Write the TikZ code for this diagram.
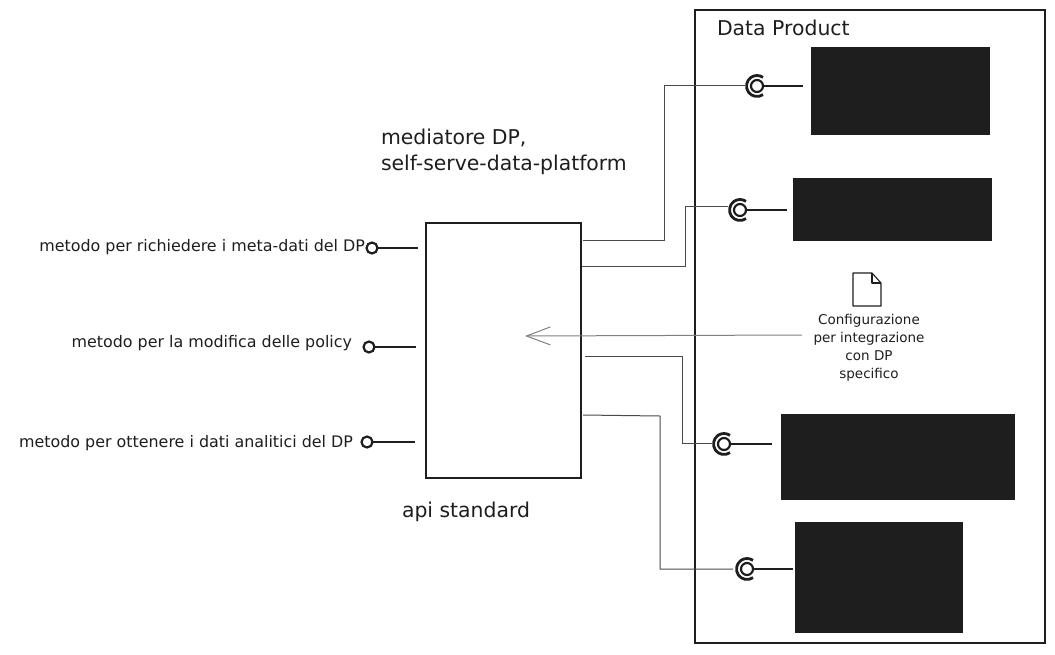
\documentclass[tikz,border=0pt]{standalone}
\usepackage{fontspec}
\setmainfont{DejaVu Sans}
\usetikzlibrary{
    arrows.meta,
    calc,
    positioning,
    shapes.geometric
}
\definecolor{inkdark}{HTML}{1E1E1E}
\definecolor{wiregray}{HTML}{4A4A4A}
\tikzset{
    every picture/.style = {
        > = Stealth,
        x = 1pt,
        y = -1pt,
        line join = miter
    },
    every node/.style = {
        inner sep = 0pt,
        outer sep = 0pt,
        align = center,
        text = inkdark
    },
    frame/.style = {
        draw = inkdark,
        line width = 1.1pt
    },
    blackbox/.style = {
        draw = inkdark,
        fill = inkdark,
        line width = 1pt
    },
    lollipop/.style = {
        circle,
        draw = inkdark,
        line width = 2.2pt,
        minimum size = 11pt
    },
    socket/.style = {
        circle,
        draw = inkdark,
        line width = 2.2pt,
        minimum size = 12pt
    },
    socketcup/.style = {
        draw = inkdark,
        line width = 2.8pt
    },
    stem/.style = {
        draw = inkdark,
        line width = 2pt
    },
    wire/.style = {
        draw = wiregray,
        line width = 1pt
    },
    bigtext/.style = {
        font = \fontsize{20.4}{26}\selectfont,
        align = left
    },
    methodtext/.style = {
        font = \fontsize{15.9}{20}\selectfont,
        anchor = east
    },
    smalltext/.style = {
        font = \fontsize{13.5}{18}\selectfont
    }
}

\begin{document}
\begin{tikzpicture}
    \useasboundingbox (0, 0) rectangle (1055, 654);

    % data product
    \node[frame, minimum width = 350pt, minimum height = 633pt] (dp) at (870, 326.5) {};
    \node[bigtext, anchor = west] (dptitle) at (717, 28) {Data Product};

    \node[blackbox, minimum width = 178pt, minimum height = 87pt] (boxa) at (900, 90.5) {};
    \node[blackbox, minimum width = 198pt, minimum height = 62pt] (boxb) at (892, 209) {};
    \node[blackbox, minimum width = 233pt, minimum height = 85pt] (boxc) at (897.5, 456.5) {};
    \node[blackbox, minimum width = 167pt, minimum height = 110pt] (boxd) at (878.5, 577) {};

    \node[socket] (socka) at (757, 86) {};
    \node[socket] (sockb) at (740, 210) {};
    \node[socket] (sockc) at (724, 444) {};
    \node[socket] (sockd) at (747, 569) {};

    \foreach \s in {socka, sockb, sockc, sockd} {
        \draw[socketcup] (\s.center) ++(55:10.5) arc[start angle = 55, end angle = 305, radius = 10.5];
    }

    \draw[stem, shorten >= 8pt] (socka.east) -- (socka.east -| boxa.west);
    \draw[stem, shorten >= 6pt] (sockb.east) -- (sockb.east -| boxb.west);
    \draw[stem, shorten >= 9pt] (sockc.east) -- (sockc.east -| boxc.west);
    \draw[stem, shorten >= 2pt] (sockd.east) -- (sockd.east -| boxd.west);

    % mediatore
    \node[frame, minimum width = 155pt, minimum height = 255pt] (med) at (503.5, 350.5) {};
    \node[bigtext, anchor = north west] (medtitle) at (381, 129) {mediatore DP,\\self-serve-data-platform};
    \node[bigtext, anchor = west] (medapi) at (402, 512) {api standard};

    \node[lollipop] (pa) at (372, 248) {};
    \node[lollipop] (pb) at (369, 347) {};
    \node[lollipop] (pc) at (367, 442) {};
    \draw[stem] (pa.east) -- (418, 248);
    \draw[stem] (pb.east) -- (416, 347);
    \draw[stem] (pc.east) -- (415, 442);
    \node[methodtext] (la) at (365, 247) {metodo per richiedere i meta-dati del DP};
    \node[methodtext] (lb) at (352, 343) {metodo per la modifica delle policy};
    \node[methodtext] (lc) at (353, 443) {metodo per ottenere i dati analitici del DP};

    % wires
    \coordinate (wa) at (583, 240);
    \coordinate (wb) at (582, 266);
    \coordinate (wc) at (585, 356);
    \coordinate (wd) at (583, 415);
    \draw[wire] (wa) -- (664, 240) |- ($(socka.west) + (-6, -1)$);
    \draw[wire] (wb) -- (685, 266) |- ($(sockb.west) + (-6, -4)$);
    \draw[wire] (wc) -- (682, 356) |- ($(sockc.west) + (-6, -1)$);
    \draw[wire] (wd) -- (660, 416) |- ($(sockd.west) + (-8, 0)$);

    % configurazione
    \node (doc) at (867, 289.5) [minimum width = 28pt, minimum height = 33pt] {};
    \draw[line width = 1.1pt, draw = inkdark, line join = round]
        (doc.north west) -- ($(doc.north east) + (-9, 0)$) -- ($(doc.north east) + (0, 10)$)
        -- (doc.south east) -- (doc.south west) -- cycle;
    \draw[line width = 1.1pt, draw = inkdark, line join = round]
        ($(doc.north east) + (-9, 0)$) -- ($(doc.north east) + (-9, 10)$) -- ($(doc.north east) + (0, 10)$);
    \node[smalltext, below = 8pt of doc, xshift = 2pt] (doctext) {Configurazione\\per integrazione\\con DP\\specifico};
    \coordinate (arrowstart) at (802, 335);
    \coordinate (arrowend) at (525, 336);
    \draw[draw = gray, line width = 1pt, -{Straight Barb[length = 24pt, width = 18pt]}] (arrowstart) -- (arrowend);
\end{tikzpicture}
\end{document}
